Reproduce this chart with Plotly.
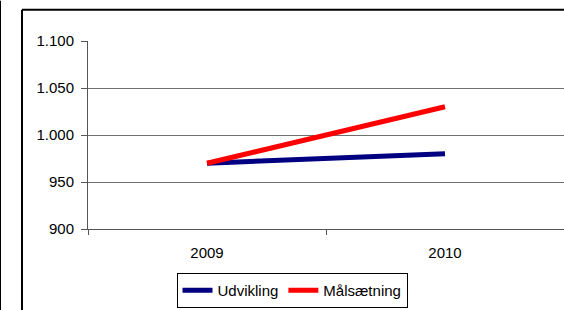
import plotly.graph_objects as go

years = ["2009", "2010"]
udvikling = [970, 980]
maalsaetning = [970, 1030]
y_tickvals = [900, 950, 1000, 1050, 1100]
y_ticktext = ["900", "950", "1.000", "1.050", "1.100"]

fig = go.Figure()
fig.add_trace(go.Scatter(x=years, y=udvikling, mode="lines", name="Udvikling",
                         line=dict(color="#000080", width=5)))
fig.add_trace(go.Scatter(x=years, y=maalsaetning, mode="lines", name="Målsætning",
                         line=dict(color="#FF0000", width=5)))

# plot area px: x 88..564, y 40.5..229.5
def px_x(p):
    return (p - 88) / 476.0
def px_y(p):
    return (229.5 - p) / 189.0

fig.update_layout(
    width=564, height=310,
    margin=dict(l=88, r=0, t=40.5, b=80.5, autoexpand=False),
    paper_bgcolor="white", plot_bgcolor="white",
    font=dict(family="Liberation Sans, Arial", size=15, color="black"),
    showlegend=True,
    legend=dict(orientation="h", x=px_x(292), xanchor="center",
                y=px_y(309), yanchor="bottom",
                bordercolor="black", borderwidth=1, bgcolor="white",
                font=dict(size=15), itemwidth=30, tracegroupgap=0),
    xaxis=dict(type="category", range=[-0.5, 1.5], showgrid=False,
               showline=True, linecolor="#555555", linewidth=1,
               ticks="outside", tickson="boundaries", ticklen=5, tickcolor="#555555",
               tickfont=dict(size=15), ticklabelstandoff=10),
    yaxis=dict(range=[900, 1100], tickvals=y_tickvals, ticktext=y_ticktext,
               showgrid=True, gridcolor="#6f6f6f", gridwidth=1,
               showline=True, linecolor="#555555", linewidth=1,
               ticks="outside", ticklen=6, tickcolor="#555555",
               tickfont=dict(size=15), zeroline=False, ticklabelstandoff=4),
    shapes=[
        dict(type="line", xref="paper", yref="paper", x0=px_x(22), x1=px_x(22),
             y0=px_y(9), y1=px_y(400), line=dict(color="black", width=2)),
        dict(type="line", xref="paper", yref="paper", x0=px_x(22), x1=px_x(700),
             y0=px_y(9), y1=px_y(9), line=dict(color="black", width=2)),
        dict(type="line", xref="paper", yref="paper", x0=px_x(0.5), x1=px_x(0.5),
             y0=px_y(0), y1=px_y(400), line=dict(color="black", width=1)),
    ],
)

fig.write_html("out.html", config={"displayModeBar": False},
               post_script="document.body.style.margin='0';document.body.style.overflow='hidden';")
